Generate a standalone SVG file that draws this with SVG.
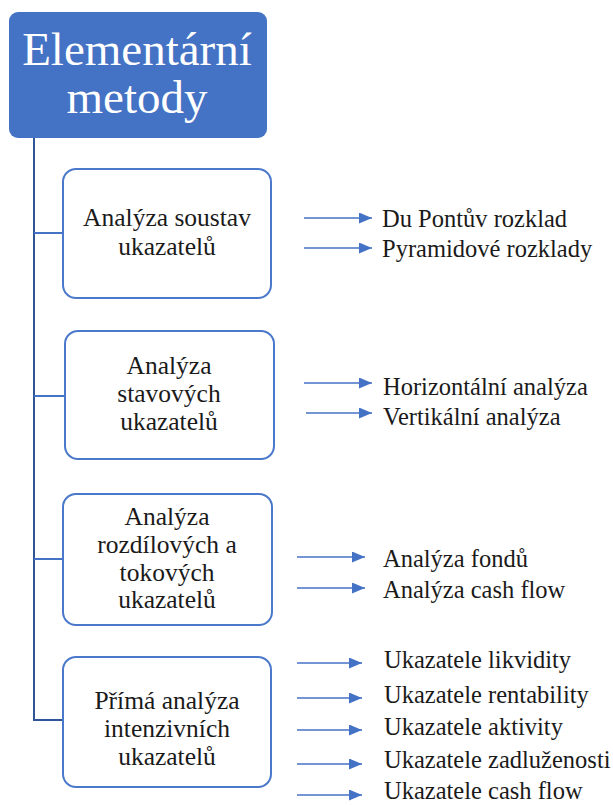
<svg xmlns="http://www.w3.org/2000/svg" width="613" height="805" viewBox="0 0 613 805">
  <defs>
    <marker id="arrow" markerUnits="userSpaceOnUse" markerWidth="13" markerHeight="11" refX="13" refY="5.5" orient="auto">
      <path d="M0,0 L13,5.5 L0,11 z" fill="#4472C4"/>
    </marker>
    <style>
      .box { fill: #ffffff; stroke: #4A78CA; stroke-width: 2; }
      .title { font-size: 47px; fill: #ffffff; text-anchor: middle; }
      .lbl { font-size: 25.5px; fill: #1a1a1a; text-anchor: middle; }
      .item { font-size: 24.5px; fill: #1a1a1a; }
      .trunk { fill: none; stroke: #2F5597; stroke-width: 2; }
      .branch { fill: none; stroke: #4472C4; stroke-width: 2; }
      .arr { fill: none; stroke: #4472C4; stroke-width: 1.5; marker-end: url(#arrow); }
    </style>
  </defs>
  <rect width="613" height="805" fill="#ffffff"/>

  <!-- connectors -->
  <g id="connectors">
    <path class="trunk" d="M34,138 V720 H63"/>
    <path class="branch" d="M34,233 H63"/>
    <path class="branch" d="M34,396 H65"/>
    <path class="branch" d="M34,559 H63"/>
    <!-- arrows to leaf items -->
    <path class="arr" d="M304,218 H372"/>
    <path class="arr" d="M304,248 H372"/>
    <path class="arr" d="M304,383 H372"/>
    <path class="arr" d="M306,413 H372"/>
    <path class="arr" d="M297,557 H365"/>
    <path class="arr" d="M297,588 H365"/>
    <path class="arr" d="M297,663 H362"/>
    <path class="arr" d="M297,698 H362"/>
    <path class="arr" d="M297,730 H362"/>
    <path class="arr" d="M297,764 H362"/>
    <path class="arr" d="M297,795 H362"/>
  </g>

  <!-- root -->
  <g id="root">
    <rect x="9" y="12" width="258" height="126" rx="9" fill="#4472C4"/>
    <text class="title" font-family="Liberation Serif" x="137" y="65">Elementární</text>
    <text class="title" font-family="Liberation Serif" x="137" y="113">metody</text>
  </g>

  <g id="node-soustav">
    <rect class="box" x="63" y="169" width="208" height="129" rx="13"/>
    <text class="lbl" font-family="Liberation Serif" x="167" y="226">Analýza soustav</text>
    <text class="lbl" font-family="Liberation Serif" x="167" y="255">ukazatelů</text>
  </g>

  <g id="node-stavove">
    <rect class="box" x="65" y="331" width="209" height="128" rx="13"/>
    <text class="lbl" font-family="Liberation Serif" x="169" y="374">Analýza</text>
    <text class="lbl" font-family="Liberation Serif" x="169" y="402">stavových</text>
    <text class="lbl" font-family="Liberation Serif" x="169" y="430">ukazatelů</text>
  </g>

  <g id="node-rozdilove">
    <rect class="box" x="63" y="494" width="209" height="131" rx="13"/>
    <text class="lbl" font-family="Liberation Serif" x="167" y="525">Analýza</text>
    <text class="lbl" font-family="Liberation Serif" x="167" y="553">rozdílových a</text>
    <text class="lbl" font-family="Liberation Serif" x="167" y="581">tokových</text>
    <text class="lbl" font-family="Liberation Serif" x="167" y="608">ukazatelů</text>
  </g>

  <g id="node-intenzivni">
    <rect class="box" x="63" y="657" width="208" height="130" rx="13"/>
    <text class="lbl" font-family="Liberation Serif" x="167" y="709">Přímá analýza</text>
    <text class="lbl" font-family="Liberation Serif" x="167" y="737">intenzivních</text>
    <text class="lbl" font-family="Liberation Serif" x="167" y="765">ukazatelů</text>
  </g>

  <!-- leaf items -->
  <g id="leaf-dupont"><text class="item" font-family="Liberation Serif" x="382" y="227">Du Pontův rozklad</text></g>
  <g id="leaf-pyramid"><text class="item" font-family="Liberation Serif" x="382" y="257">Pyramidové rozklady</text></g>
  <g id="leaf-horizontal"><text class="item" font-family="Liberation Serif" x="383" y="395">Horizontální analýza</text></g>
  <g id="leaf-vertical"><text class="item" font-family="Liberation Serif" x="383" y="425">Vertikální analýza</text></g>
  <g id="leaf-fondy"><text class="item" font-family="Liberation Serif" x="383" y="567">Analýza fondů</text></g>
  <g id="leaf-cashflow-a"><text class="item" font-family="Liberation Serif" x="383" y="598">Analýza cash flow</text></g>
  <g id="leaf-likvidita"><text class="item" font-family="Liberation Serif" x="384" y="668">Ukazatele likvidity</text></g>
  <g id="leaf-rentabilita"><text class="item" font-family="Liberation Serif" x="384" y="703">Ukazatele rentability</text></g>
  <g id="leaf-aktivita"><text class="item" font-family="Liberation Serif" x="384" y="735">Ukazatele aktivity</text></g>
  <g id="leaf-zadluzenost"><text class="item" font-family="Liberation Serif" x="384" y="768">Ukazatele zadluženosti</text></g>
  <g id="leaf-cashflow-u"><text class="item" font-family="Liberation Serif" x="384" y="799">Ukazatele cash flow</text></g>
</svg>
